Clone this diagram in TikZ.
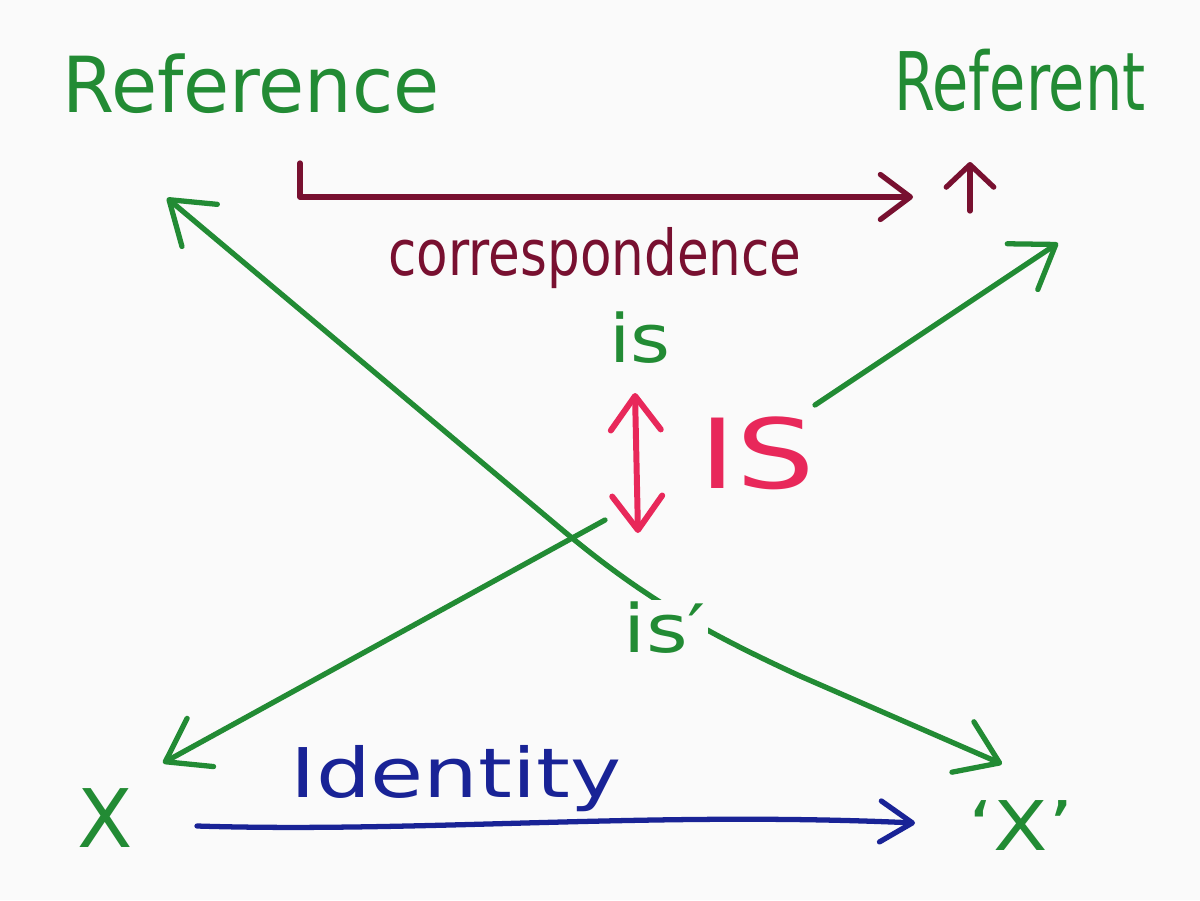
\documentclass[tikz,border=0pt]{standalone}
\usepackage{fontspec}
\setmainfont{DejaVu Sans}
\usetikzlibrary{arrows.meta}
\definecolor{mgreen}{RGB}{34,139,52}
\definecolor{mdred}{RGB}{120,16,48}
\definecolor{mpink}{RGB}{232,40,90}
\definecolor{mblue}{RGB}{25,35,150}
\definecolor{paper}{RGB}{250,250,250}
\newcommand{\fsz}[1]{\fontsize{#1}{#1}\selectfont}
\newcommand{\hx}[2]{\scalebox{#1}[1]{#2}}
\tikzset{
  GB/.tip={Straight Barb[length=0.8cm,width=1.1cm,round]},
  RB/.tip={Straight Barb[length=0.6cm,width=0.9cm,round]},
  UB/.tip={Straight Barb[length=0.45cm,width=0.95cm,round]},
  BB/.tip={Straight Barb[length=0.64cm,width=0.82cm,round]},
  PB/.tip={Straight Barb[length=0.68cm,width=1.0cm,round]},
}
\begin{document}
\begin{tikzpicture}[x=0.02cm,y=-0.02cm,
  lbl/.style={anchor=base, inner sep=0pt},
  gtext/.style={lbl, text=mgreen},
  stroke/.style={line width=3pt, line cap=round, line join=round},
  gline/.style={stroke, draw=mgreen},
  rline/.style={stroke, draw=mdred},
  bline/.style={stroke, draw=mblue},
  pline/.style={stroke, draw=mpink, line width=3.4pt}]
\fill[paper] (0,0) rectangle (1200,900);
\useasboundingbox (0,0) rectangle (1200,900);

% endpoints
\coordinate (tl) at (167,198);
\coordinate (c1) at (560,528);
\coordinate (c3) at (800,676);
\coordinate (br) at (1002,764);
\coordinate (bl) at (163,763);
\coordinate (m1) at (605,520);
\coordinate (m2) at (815,405);
\coordinate (tr) at (1058,243);
\coordinate (pt) at (635,393);
\coordinate (pb) at (638,533);
\coordinate (tick) at (300,163);
\coordinate (corrend) at (913,197);
\coordinate (upb) at (970,211);
\coordinate (upt) at (970,162);
\coordinate (bs) at (197,826);
\coordinate (be) at (915,823);

% green connectors
\draw[gline, arrows={GB-GB}] (tl) -- (c1) .. controls (640,595) and (700,630) .. (c3) -- (br);
\draw[gline, arrows={GB-}] (bl) -- (m1);
\draw[gline, arrows={-GB}] (m2) -- (tr);

% pink double arrow
\draw[pline, arrows={PB-PB}] (pt) -- (pb);

% correspondence arrow
\draw[rline, arrows={-RB}] (tick) |- (corrend);
\draw[rline, arrows={-UB}] (upb) -- (upt);

% identity arrow
\draw[bline, arrows={-BB}] (bs) .. controls (420,833) and (650,811) .. (be);

% labels
\node[gtext, font={\fsz{44}}] (ref) at (251,112) {\hx{0.97}{Reference}};
\node[gtext, font={\fsz{46}}] (rfnt) at (1020,110) {\hx{0.73}{Referent}};
\node[lbl, text=mdred, font={\fsz{36}}] (corr) at (595,275) {\hx{0.815}{correspondence}};
\node[gtext, font={\fsz{38}}] (is) at (640,362) {\hx{1.15}{is}};
\node[lbl, text=mpink, font={\fsz{55}}] (IS) at (757,488) {\hx{1.28}{IS}};
\node[gtext, font={\fsz{38}}, fill=paper, inner sep=1pt] (isp) at (665,652) {\hx{1.2}{is′}};
\node[gtext, font={\fsz{46}}] (x) at (105,847) {X};
\node[gtext, font={\fsz{39}}] (qx) at (1021,850) {\hx{1.16}{‘X’}};
\node[lbl, text=mblue, font={\fsz{39}}] (id) at (456,797) {\hx{1.26}{Identity}};
\end{tikzpicture}
\end{document}
